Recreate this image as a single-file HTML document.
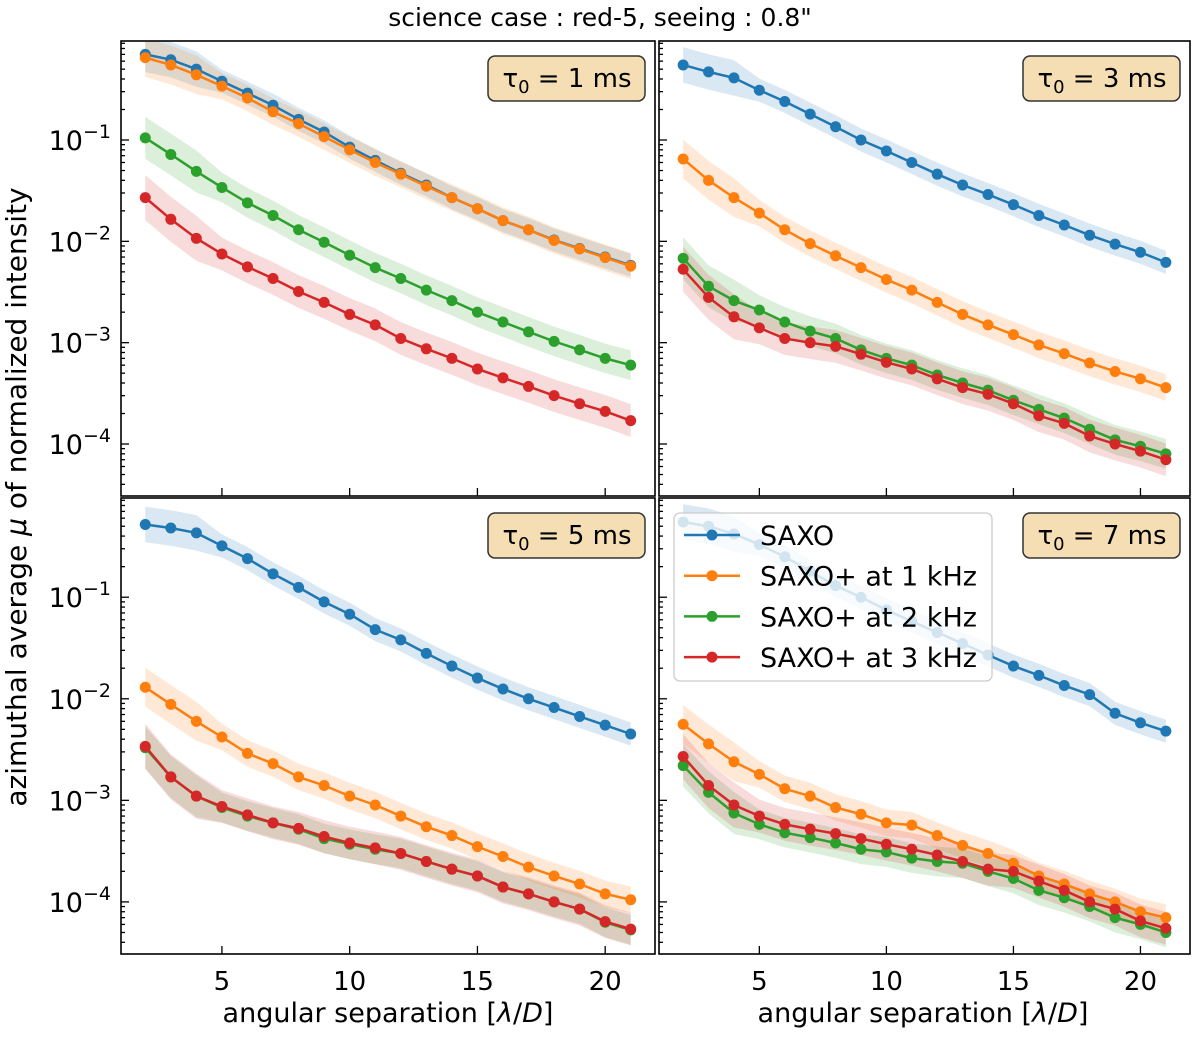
<!DOCTYPE html>
<html><head><meta charset="utf-8"><style>
body{margin:0;background:#fff}
svg text{font-family:"DejaVu Sans","Liberation Sans",sans-serif;fill:#000}
</style></head><body>
<svg id="chart" width="1200" height="1033" xmlns="http://www.w3.org/2000/svg">
<text x="600" y="26" text-anchor="middle" font-size="25">science case : red-5, seeing : 0.8"</text>
<text transform="translate(26,497) rotate(-90)" text-anchor="middle" font-size="28">azimuthal average <tspan font-style="italic">μ</tspan> of normalized intensity</text>
<text x="388" y="1022" text-anchor="middle" font-size="27">angular separation [<tspan font-style="italic">λ</tspan>/<tspan font-style="italic">D</tspan>]</text>
<text x="923" y="1022" text-anchor="middle" font-size="27">angular separation [<tspan font-style="italic">λ</tspan>/<tspan font-style="italic">D</tspan>]</text>
<g id="panels"></g>
</svg>
<script>
const xs=[2,3,4,5,6,7,8,9,10,11,12,13,14,15,16,17,18,19,20,21];
const seriesNames=["SAXO","SAXO+ at 1 kHz","SAXO+ at 2 kHz","SAXO+ at 3 kHz"];
const tauLabels=["1","3","5","7"];
const xTicks=[5,10,15,20];
const yTickExps=[-1,-2,-3,-4];
const p1_saxo=[0.7,0.62,0.5,0.38,0.29,0.22,0.16,0.12,0.085,0.063,0.047,0.036,0.027,0.021,0.016,0.013,0.0103,0.0085,0.007,0.0058];
const p1_k1=[0.65,0.55,0.44,0.34,0.26,0.19,0.145,0.108,0.08,0.06,0.046,0.035,0.027,0.021,0.016,0.013,0.0102,0.0084,0.0069,0.0057];
const p1_k2=[0.105,0.072,0.049,0.034,0.024,0.018,0.013,0.0098,0.0073,0.0055,0.0043,0.0033,0.0026,0.002,0.0016,0.00128,0.00103,0.00085,0.0007,0.0006];
const p1_k3=[0.027,0.0165,0.0107,0.0075,0.0056,0.0043,0.0032,0.0025,0.0019,0.0015,0.0011,0.00087,0.0007,0.00055,0.00045,0.00037,0.0003,0.00025,0.00021,0.00017];
const p2_saxo=[0.55,0.47,0.41,0.31,0.24,0.18,0.135,0.1,0.078,0.06,0.046,0.036,0.029,0.023,0.018,0.0145,0.0115,0.0094,0.0078,0.0062];
const p2_k1=[0.065,0.04,0.027,0.019,0.013,0.0095,0.0072,0.0055,0.0042,0.0033,0.0025,0.0019,0.0015,0.0012,0.00095,0.00078,0.00063,0.00052,0.00044,0.00036];
const p2_k2=[0.0068,0.0036,0.0026,0.0021,0.0016,0.0013,0.0011,0.00085,0.0007,0.0006,0.00048,0.0004,0.00034,0.00027,0.00022,0.00018,0.00014,0.00011,0.000095,0.00008];
const p2_k3=[0.0053,0.0028,0.0018,0.0014,0.0011,0.001,0.00092,0.00077,0.00064,0.00055,0.00044,0.00036,0.00031,0.00025,0.00019,0.00016,0.00012,0.0001,0.000085,0.00007];
const p3_saxo=[0.52,0.48,0.43,0.32,0.24,0.17,0.125,0.09,0.068,0.048,0.038,0.028,0.021,0.016,0.0125,0.01,0.0082,0.0067,0.0055,0.0045];
const p3_k1=[0.013,0.0088,0.006,0.0042,0.0029,0.0023,0.0017,0.0014,0.0011,0.0009,0.0007,0.00055,0.00045,0.00035,0.00028,0.00022,0.00018,0.00015,0.00012,0.000105];
const p3_k2=[0.0033,0.0017,0.0011,0.00085,0.0007,0.0006,0.00052,0.00042,0.00037,0.00033,0.0003,0.00025,0.00021,0.00018,0.00014,0.00012,0.0001,0.000085,0.000063,0.000053];
const p3_k3=[0.0034,0.0017,0.0011,0.00087,0.00072,0.0006,0.00053,0.00044,0.00038,0.00034,0.0003,0.00025,0.00021,0.00018,0.00014,0.00012,0.0001,0.000085,0.000064,0.000054];
const p4_saxo=[0.55,0.5,0.42,0.33,0.25,0.18,0.13,0.1,0.075,0.058,0.045,0.035,0.027,0.021,0.017,0.0135,0.011,0.0072,0.0058,0.0048];
const p4_k1=[0.0056,0.0036,0.0024,0.0018,0.0013,0.0011,0.00085,0.00073,0.0006,0.00057,0.00045,0.00036,0.0003,0.00024,0.00018,0.00015,0.00012,0.0001,0.00008,0.00007];
const p4_k2=[0.0022,0.0012,0.00075,0.00058,0.00048,0.00043,0.00038,0.00033,0.00031,0.00027,0.00025,0.00024,0.0002,0.00017,0.00013,0.00011,0.00009,0.00007,0.00006,0.00005];
const p4_k3=[0.0027,0.0014,0.0009,0.0007,0.00058,0.00052,0.00047,0.00042,0.00037,0.00033,0.00029,0.00025,0.00021,0.0002,0.00016,0.00013,0.0001,0.000085,0.000065,0.000055];
const panelData=[[p1_saxo,p1_k1,p1_k2,p1_k3],[p2_saxo,p2_k1,p2_k2,p2_k3],[p3_saxo,p3_k1,p3_k2,p3_k3],[p4_saxo,p4_k1,p4_k2,p4_k3]];
const spread=[1.3,1.35,1.4,1.45];

const colors=["#1f77b4","#ff7f0e","#2ca02c","#d62728"];
const NS="http://www.w3.org/2000/svg";
const boxes=[[121,41,655,496],[659,41,1190,496],[121,498,655,954],[659,498,1190,954]];
const XMIN=1.05,XMAX=21.95,LMAX=-0.023,LMIN=-4.513;
function mk(tag,attrs,parent){const e=document.createElementNS(NS,tag);for(const k in attrs)e.setAttribute(k,attrs[k]);parent.appendChild(e);return e;}
const root=document.getElementById('panels');
boxes.forEach((b,pi)=>{
  const [x0,y0,x1,y1]=b;
  const sx=v=>x0+(v-XMIN)/(XMAX-XMIN)*(x1-x0);
  const sy=v=>y0+(LMAX-Math.log10(v))/(LMAX-LMIN)*(y1-y0);
  const g=mk('g',{},root);
  
  
  const cid='clip'+pi;
  const cp=mk('clipPath',{id:cid},g);mk('rect',{x:x0,y:y0,width:x1-x0,height:y1-y0},cp);
  const plot=mk('g',{'clip-path':'url(#'+cid+')'},g);
  panelData[pi].forEach((ser,si)=>{
    const f=spread[si];
    let up=xs.map((x,i)=>sx(x)+','+sy(ser[i]*f*(i<3?1.15:1)));
    let dn=xs.map((x,i)=>sx(x)+','+sy(ser[i]/f/(i<3?1.15:1))).reverse();
    const band=mk('polygon',{points:up.concat(dn).join(' '),fill:colors[si],'fill-opacity':0.17,stroke:'none'},plot);
    
    
  });
  panelData[pi].forEach((ser,si)=>{
    const ln=mk('polyline',{points:xs.map((x,i)=>sx(x)+','+sy(ser[i])).join(' '),fill:'none',stroke:colors[si],'stroke-width':2.5},plot);
    
    
    xs.forEach((x,i)=>{
      const c=mk('circle',{cx:sx(x),cy:sy(ser[i]),r:5.5,fill:colors[si]},plot);
      
      
    });
  });
  const tk=mk('g',{stroke:'#000','stroke-width':1.3},g);
  xTicks.forEach(t=>{mk('line',{x1:sx(t),x2:sx(t),y1:y1,y2:y1-8},tk);
    if(pi>=2){const tx=mk('text',{x:sx(t),y:y1+36,'text-anchor':'middle','font-size':26,stroke:'none'},g);tx.textContent=t;
      
      }});
  for(let e=-5;e<=0;e++){for(let m=1;m<10;m++){const v=m*Math.pow(10,e);const l=Math.log10(v);if(l>LMAX||l<LMIN)continue;
    mk('line',{x1:x0,x2:x0+(m==1?8:4),y1:sy(v),y2:sy(v)},tk);}}
  if(pi%2==0){yTickExps.forEach(e=>{const t=mk('text',{x:x0-10,y:sy(Math.pow(10,e))+10,'text-anchor':'end','font-size':27,stroke:'none'},g);
    t.innerHTML='10<tspan dy="-12" font-size="19">−'+(-e)+'</tspan>';
    
    });}
  const fr=mk('rect',{x:x0,y:y0,width:x1-x0,height:y1-y0,fill:'none',stroke:'#000','stroke-width':1.6},g);
  
  
  const bx=mk('rect',{x:x1-167,y:y0+15,width:157,height:45,rx:7,fill:'#f5deb3',stroke:'#333','stroke-width':1.5},g);
  
  
  const tt=mk('text',{x:x1-88,y:y0+46,'text-anchor':'middle','font-size':26},g);
  tt.innerHTML='τ<tspan dy="6" font-size="18">0</tspan><tspan dy="-6"> = '+tauLabels[pi]+' ms</tspan>';
  
  
});
const lg=mk('g',{},root);


const lb=mk('rect',{x:674,y:513,width:318,height:168,rx:6,fill:'#fff','fill-opacity':0.8,stroke:'#ccc','stroke-width':1.3},lg);


seriesNames.forEach((n,i)=>{
  const y=535+i*40.7;
  const e=mk('g',{},lg);
  
  
  mk('line',{x1:684,x2:740,y1:y,y2:y,stroke:colors[i],'stroke-width':2.5},e);
  mk('circle',{cx:712,cy:y,r:5.5,fill:colors[i]},e);
  const t=mk('text',{x:760,y:y+10,'font-size':27},e);t.textContent=n;
});
</script>
</body></html>
